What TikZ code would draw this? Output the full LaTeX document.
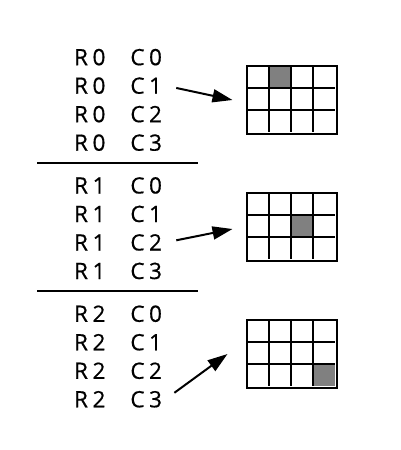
\documentclass[tikz,border=0pt]{standalone}
\usepackage{fontspec}
\setsansfont{Open Sans}[FakeBold=0.6]
\usepackage{tikz}
\usetikzlibrary{arrows.meta,calc,positioning}
\definecolor{koyuGri}{HTML}{808080}

\begin{document}
\begin{tikzpicture}[x=1pt, y=-1pt, line width=2pt,
  every node/.style={font=\sffamily\fontsize{22.5}{26}\selectfont},
  satir/.style={anchor=base west, inner sep=0pt},
  izgara/.style={minimum width=88.4pt, minimum height=66.3pt, inner sep=0pt},
  ok/.style={-{Triangle[length=20pt,width=13pt]}, shorten <=11pt}]
\useasboundingbox (0,0) rectangle (401,450);
% index lines
\foreach \g in {0,1,2}
  \foreach \r in {0,...,3}
    \node[satir] (s\g\r) at (71, 65.2+128.3*\g+28.5*\r)
      {\makebox[18pt]{R}\makebox[18pt]{\g}\hspace{20.5pt}\makebox[18pt]{C}\makebox[18pt]{\r}};
\foreach \y in {162.7, 291} \draw (37,\y) -- (198,\y);
% grids
\foreach \g/\c in {0/1, 1/2, 2/3} {
  \node[izgara] (g\g) at (291.7, 100+127*\g) {};
  \fill[koyuGri] ($(g\g.north west)+(22.1*\c,22.1*\g)$) rectangle ++(22.1,22.1);
  \foreach \i in {1,2,3} \draw ($(g\g.north west)+(22.1*\i,0)$) -- ++(0,66.3);
  \foreach \i in {1,2} \draw ($(g\g.north west)+(0,22.1*\i)$) -- ++(88.4,0);
  \draw (g\g.north west) rectangle (g\g.south east);
}
\coordinate (u0) at ([xshift=-14pt]g0.west);
\coordinate (u1) at ([xshift=-14pt,yshift=-2pt]g1.west);
\coordinate (u2) at ([xshift=-19pt]g2.west);
\foreach \a/\b in {s01/u0, s12/u1, s23/u2} \draw[ok] (\a.east) -- (\b);
\end{tikzpicture}
\end{document}
